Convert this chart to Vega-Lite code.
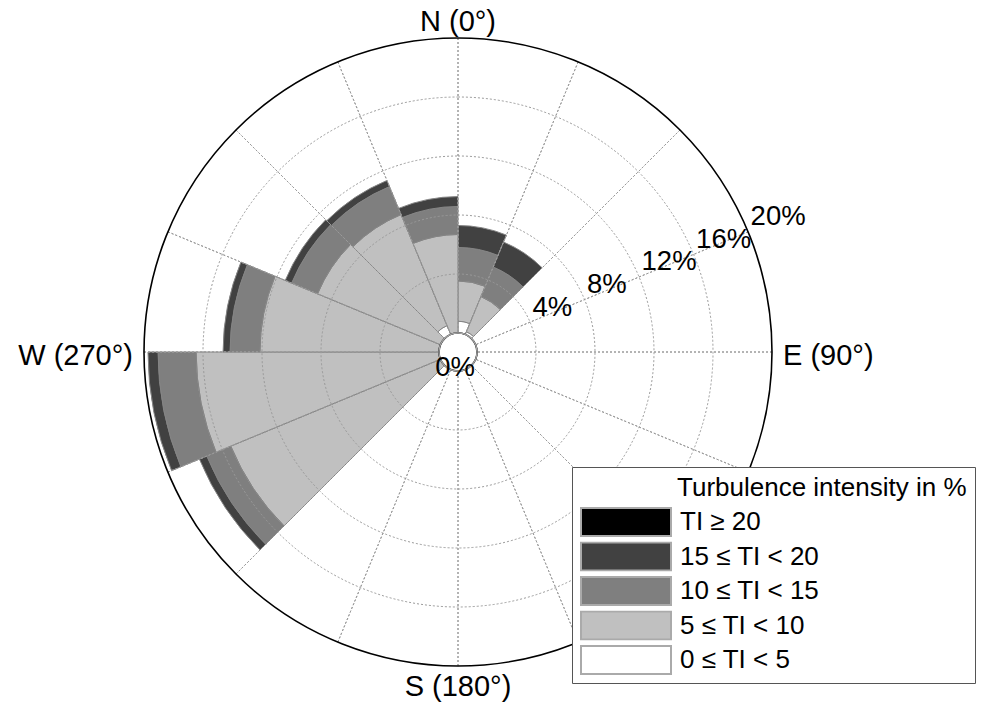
{
  "$schema": "https://vega.github.io/schema/vega-lite/v6.json",
  "width": 916,
  "height": 704,
  "autosize": "none",
  "padding": {"left": 0, "top": 0, "right": 66, "bottom": 0},
  "background": "white",
  "config": {
    "view": {"stroke": null},
    "font": "Liberation Sans",
    "text": {"font": "Liberation Sans", "color": "#000000"}
  },
  "datasets": {
    "rose": [
      {"dir": 0, "cls": "0 ≤ TI < 5", "lo": 0, "pct": 0.8},
      {"dir": 0, "cls": "5 ≤ TI < 10", "lo": 5, "pct": 2.73},
      {"dir": 0, "cls": "10 ≤ TI < 15", "lo": 10, "pct": 2.27},
      {"dir": 0, "cls": "15 ≤ TI < 20", "lo": 15, "pct": 1.49},
      {"dir": 22.5, "cls": "0 ≤ TI < 5", "lo": 0, "pct": 0.2},
      {"dir": 22.5, "cls": "5 ≤ TI < 10", "lo": 5, "pct": 2.58},
      {"dir": 22.5, "cls": "10 ≤ TI < 15", "lo": 10, "pct": 2.17},
      {"dir": 22.5, "cls": "15 ≤ TI < 20", "lo": 15, "pct": 1.83},
      {"dir": 225, "cls": "5 ≤ TI < 10", "lo": 5, "pct": 15.39},
      {"dir": 225, "cls": "10 ≤ TI < 15", "lo": 10, "pct": 1.76},
      {"dir": 225, "cls": "15 ≤ TI < 20", "lo": 15, "pct": 0.54},
      {"dir": 247.5, "cls": "5 ≤ TI < 10", "lo": 5, "pct": 16.47},
      {"dir": 247.5, "cls": "10 ≤ TI < 15", "lo": 10, "pct": 2.58},
      {"dir": 247.5, "cls": "15 ≤ TI < 20", "lo": 15, "pct": 0.68},
      {"dir": 270, "cls": "5 ≤ TI < 10", "lo": 5, "pct": 12.14},
      {"dir": 270, "cls": "10 ≤ TI < 15", "lo": 10, "pct": 2.03},
      {"dir": 270, "cls": "15 ≤ TI < 20", "lo": 15, "pct": 0.47},
      {"dir": 292.5, "cls": "5 ≤ TI < 10", "lo": 5, "pct": 9.02},
      {"dir": 292.5, "cls": "10 ≤ TI < 15", "lo": 10, "pct": 1.9},
      {"dir": 292.5, "cls": "15 ≤ TI < 20", "lo": 15, "pct": 0.47},
      {"dir": 315, "cls": "0 ≤ TI < 5", "lo": 0, "pct": 0.65},
      {"dir": 315, "cls": "5 ≤ TI < 10", "lo": 5, "pct": 8.15},
      {"dir": 315, "cls": "10 ≤ TI < 15", "lo": 10, "pct": 2.05},
      {"dir": 315, "cls": "15 ≤ TI < 20", "lo": 15, "pct": 0.45},
      {"dir": 337.5, "cls": "5 ≤ TI < 10", "lo": 5, "pct": 6.68},
      {"dir": 337.5, "cls": "10 ≤ TI < 15", "lo": 10, "pct": 1.9},
      {"dir": 337.5, "cls": "15 ≤ TI < 20", "lo": 15, "pct": 0.67}
    ],
    "rings": [{"v": 4}, {"v": 8}, {"v": 12}, {"v": 16}],
    "outer": [{"v": 20}],
    "hole": [{"v": 0}],
    "spokes": [
      {"dir": 0}, {"dir": 22.5}, {"dir": 45}, {"dir": 67.5},
      {"dir": 90}, {"dir": 112.5}, {"dir": 135}, {"dir": 157.5},
      {"dir": 180}, {"dir": 202.5}, {"dir": 225}, {"dir": 247.5},
      {"dir": 270}, {"dir": 292.5}, {"dir": 315}, {"dir": 337.5}
    ],
    "compass": [
      {"label": "N (0°)", "dir": 0},
      {"label": "E (90°)", "dir": 90},
      {"label": "S (180°)", "dir": 180},
      {"label": "W (270°)", "dir": 270}
    ],
    "ticks": [
      {"t": "4%", "v": 4},
      {"t": "8%", "v": 8},
      {"t": "12%", "v": 12},
      {"t": "16%", "v": 16},
      {"t": "20%", "v": 20}
    ],
    "origin": [{"t": "0%"}]
  },
  "resolve": {"scale": {"theta": "independent", "radius": "independent"}},
  "layer": [
    {
      "data": {"name": "rose"},
      "transform": [
        {"stack": "pct", "groupby": ["dir"], "sort": [{"field": "lo", "order": "ascending"}], "as": ["p0", "p1"]}
      ],
      "mark": {"type": "arc", "stroke": "#858585", "strokeWidth": 1},
      "encoding": {
        "theta": {
          "field": "dir", "type": "ordinal",
          "scale": {
            "type": "band",
            "domain": [0, 22.5, 45, 67.5, 90, 112.5, 135, 157.5, 180, 202.5, 225, 247.5, 270, 292.5, 315, 337.5],
            "range": [0, 6.283185307179586],
            "paddingInner": 0, "paddingOuter": 0
          }
        },
        "radius": {
          "field": "p1", "type": "quantitative", "stack": null,
          "scale": {"type": "linear", "domain": [0, 20], "range": [19, 314], "zero": false}
        },
        "radius2": {"field": "p0"},
        "fill": {
          "field": "cls", "type": "nominal",
          "scale": {
            "domain": ["TI ≥ 20", "15 ≤ TI < 20", "10 ≤ TI < 15", "5 ≤ TI < 10", "0 ≤ TI < 5"],
            "range": ["#000000", "#414141", "#7f7f7f", "#c0c0c0", "#ffffff"]
          },
          "legend": {
            "title": "Turbulence intensity in %",
            "orient": "none",
            "legendX": 572,
            "legendY": 467,
            "padding": 8,
            "fillColor": "white",
            "strokeColor": "#555555",
            "symbolType": "M-1,-0.311H1V0.311H-1Z",
            "symbolSize": 8100,
            "symbolStrokeColor": "#aaaaaa",
            "symbolStrokeWidth": 2,
            "symbolOpacity": 1,
            "clipHeight": 30,
            "labelFont": "Liberation Sans",
            "labelFontSize": 26,
            "labelColor": "#000000",
            "labelOffset": 8,
            "labelLimit": 400,
            "titleFont": "Liberation Sans",
            "titleFontSize": 26,
            "titleFontWeight": "normal",
            "titleColor": "#000000",
            "titleLimit": 500,
            "titlePadding": 6,
            "rowPadding": 4.5,
            "encode": {"title": {"update": {"dx": {"value": 97}}}}
          }
        }
      }
    },
    {
      "data": {"name": "rings"},
      "mark": {"type": "arc", "filled": false, "stroke": "#9a9a9a", "strokeWidth": 1, "strokeDash": [2, 2], "theta": 0, "theta2": 6.283185307179586},
      "encoding": {
        "radius": {"field": "v", "type": "quantitative", "stack": null, "scale": {"type": "linear", "domain": [0, 20], "range": [19, 314], "zero": false}}
      }
    },
    {
      "data": {"name": "spokes"},
      "mark": {"type": "arc", "filled": false, "stroke": "#9a9a9a", "strokeWidth": 1, "strokeDash": [2, 2]},
      "encoding": {
        "theta": {"field": "dir", "type": "quantitative", "stack": null, "scale": {"domain": [0, 360], "range": [0, 6.283185307179586]}},
        "theta2": {"field": "dir"},
        "radius": {"datum": 20, "type": "quantitative", "stack": null, "scale": {"type": "linear", "domain": [0, 20], "range": [19, 314], "zero": false}},
        "radius2": {"datum": 0}
      }
    },
    {
      "data": {"name": "outer"},
      "mark": {"type": "arc", "filled": false, "stroke": "#000000", "strokeWidth": 1.6, "theta": 0, "theta2": 6.283185307179586},
      "encoding": {
        "radius": {"field": "v", "type": "quantitative", "stack": null, "scale": {"type": "linear", "domain": [0, 20], "range": [19, 314], "zero": false}}
      }
    },
    {
      "data": {"name": "hole"},
      "mark": {"type": "arc", "filled": false, "stroke": "#a8a8a8", "strokeWidth": 1.3, "theta": 0, "theta2": 6.283185307179586},
      "encoding": {
        "radius": {"field": "v", "type": "quantitative", "stack": null, "scale": {"type": "linear", "domain": [0, 20], "range": [19, 314], "zero": false}}
      }
    },
    {
      "data": {"name": "compass"},
      "mark": {
        "type": "text",
        "fontSize": 29,
        "radiusOffset": 7,
        "align": {"expr": "datum.dir == 90 ? 'left' : datum.dir == 270 ? 'right' : 'center'"},
        "baseline": {"expr": "datum.dir == 0 ? 'alphabetic' : datum.dir == 180 ? 'top' : 'middle'"},
        "dx": {"expr": "datum.dir == 90 ? 4 : datum.dir == 270 ? -4 : 0"},
        "dy": {"expr": "datum.dir == 90 || datum.dir == 270 ? 4 : 0"}
      },
      "encoding": {
        "theta": {"field": "dir", "type": "quantitative", "stack": null, "scale": {"domain": [0, 360], "range": [0, 6.283185307179586]}},
        "radius": {"datum": 20, "type": "quantitative", "stack": null, "scale": {"type": "linear", "domain": [0, 20], "range": [19, 314], "zero": false}},
        "text": {"field": "label"}
      }
    },
    {
      "data": {"name": "ticks"},
      "mark": {"type": "text", "fontSize": 27.5, "align": "left", "baseline": "alphabetic", "dx": 2.5, "dy": -6.5},
      "encoding": {
        "theta": {"datum": 67.5, "type": "quantitative", "stack": null, "scale": {"domain": [0, 360], "range": [0, 6.283185307179586]}},
        "radius": {"field": "v", "type": "quantitative", "stack": null, "scale": {"type": "linear", "domain": [0, 20], "range": [19, 314], "zero": false}},
        "text": {"field": "t"}
      }
    },
    {
      "data": {"name": "origin"},
      "mark": {"type": "text", "fontSize": 27.5, "align": "center", "baseline": "top", "dx": -3, "dy": 1.5},
      "encoding": {
        "text": {"field": "t"}
      }
    }
  ]
}
